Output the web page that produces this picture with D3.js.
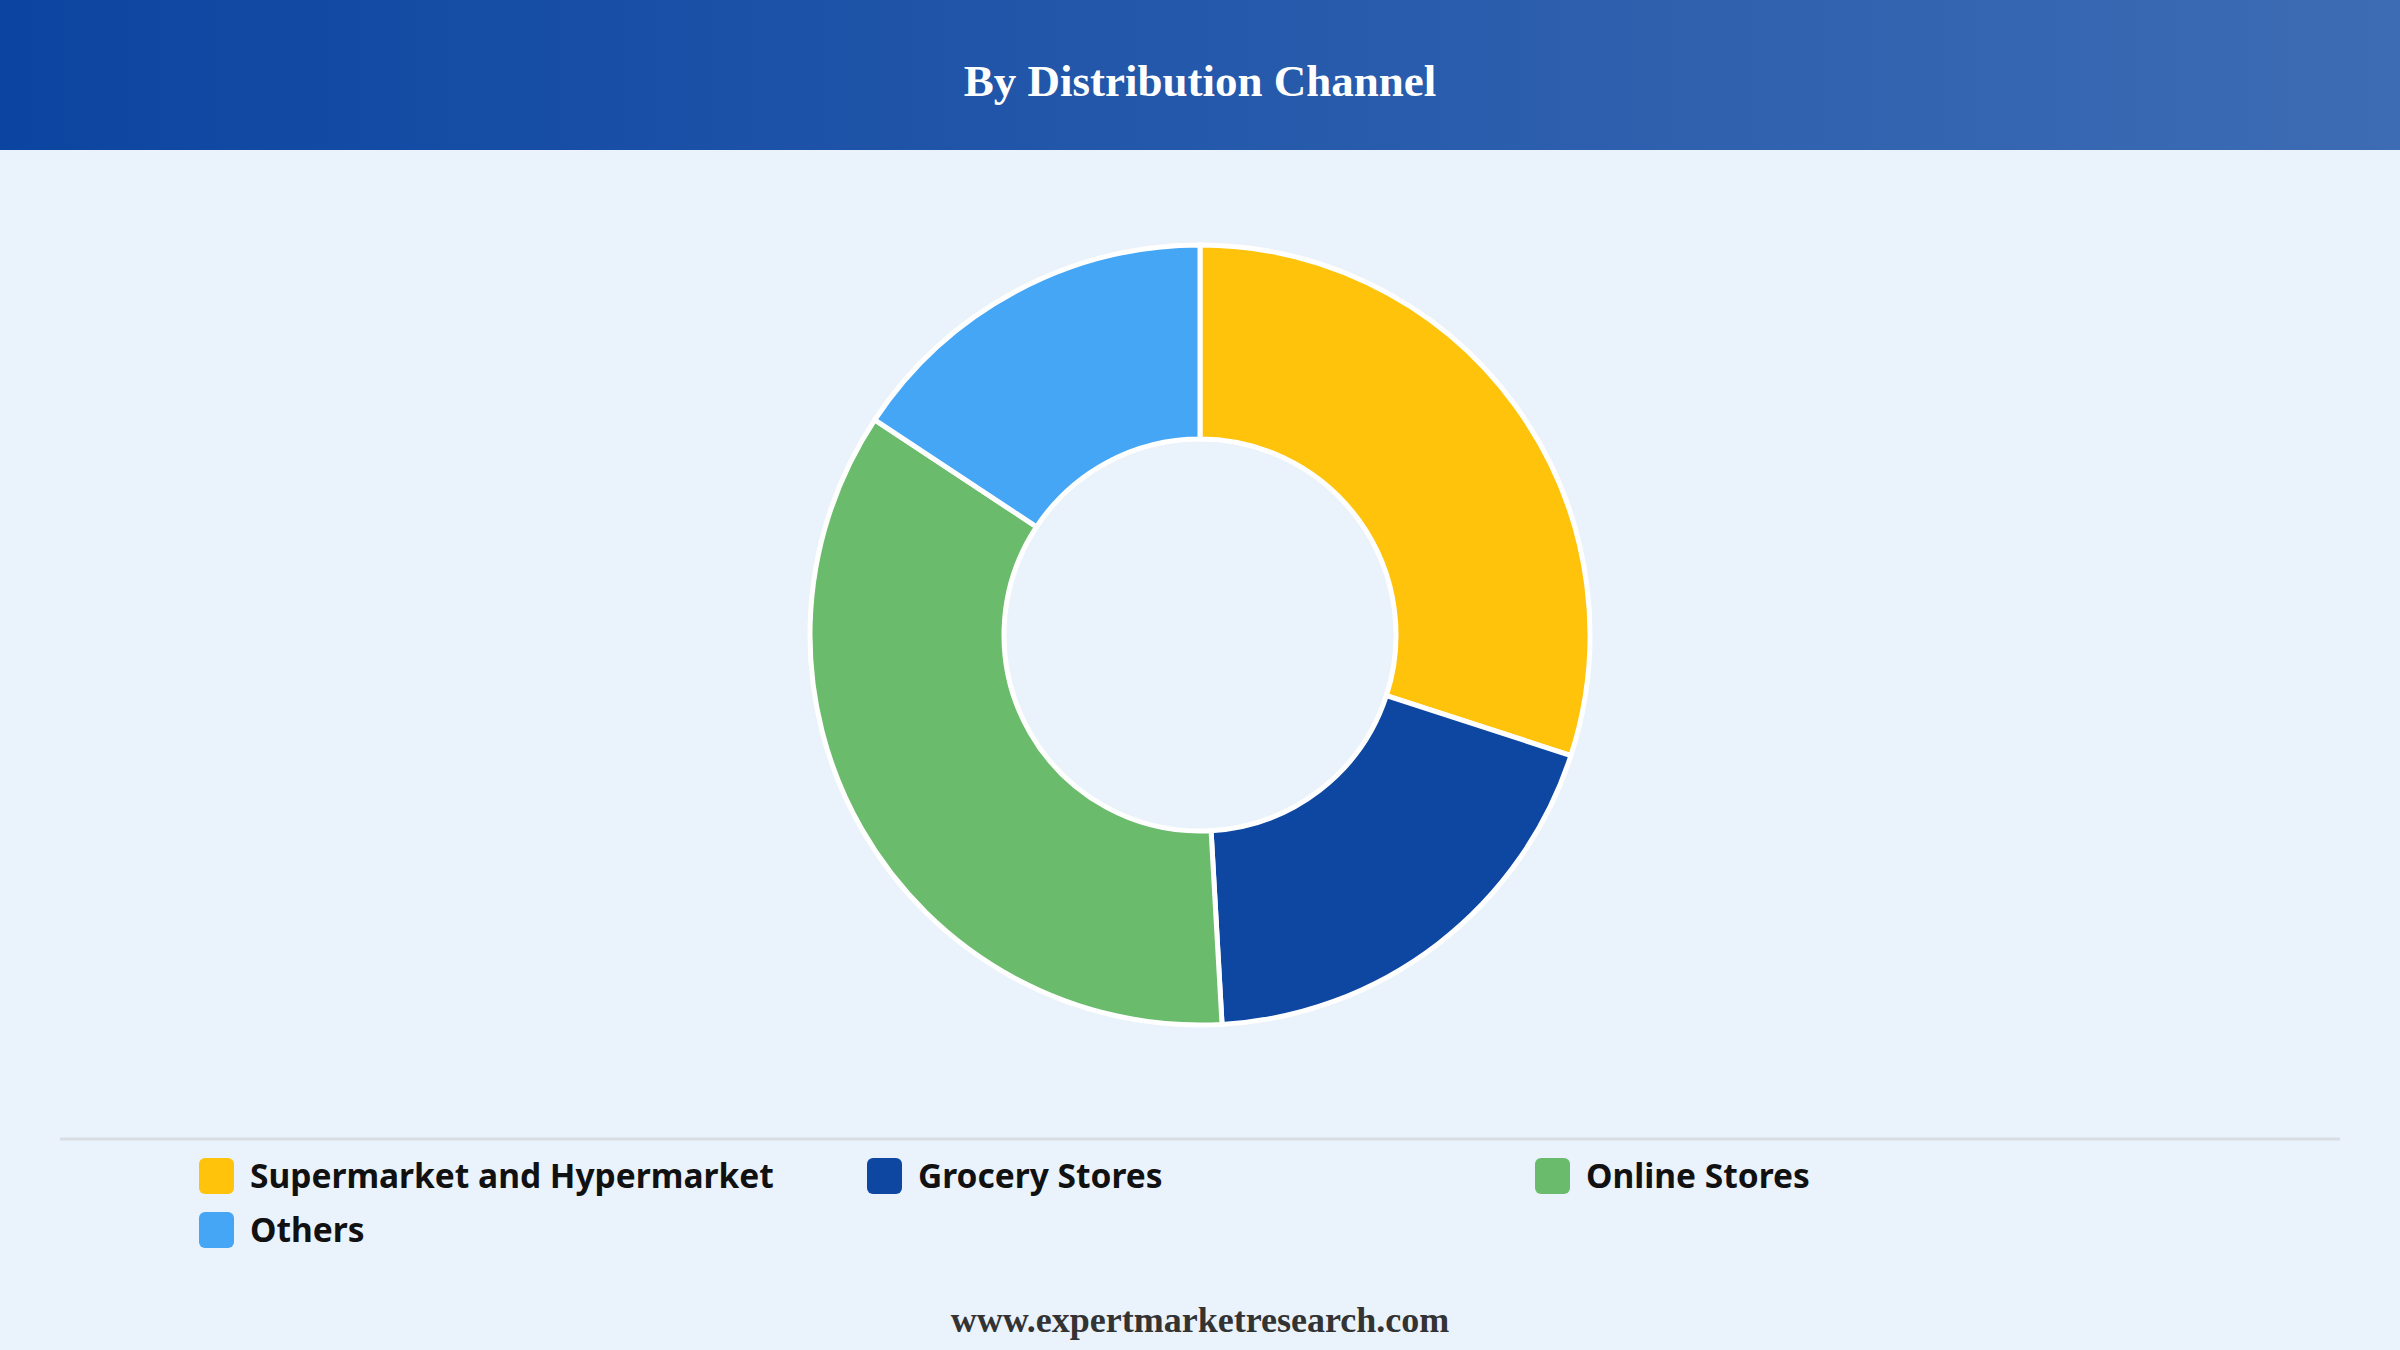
<!DOCTYPE html>
<html>
<head>
	<title>By Distribution Channel</title>
	<script src="https://cdn.jsdelivr.net/npm/d3@7/dist/d3.min.js" charset="utf-8"></script>
	<style>
		body { margin: 0; background: #eaf2fb; }
	</style>
</head>
<body>
<div id="content"></div>

<script type="text/javascript">
	var categories = ['Supermarket and Hypermarket', 'Grocery Stores', 'Online Stores', 'Others'];
	var shares = [30, 19.1, 35.2, 15.7];
	var colours = ['#ffc30b', '#0e47a1', '#6abb6b', '#44a6f5'];

	var width = 2400, height = 1350;

	var svg = d3.select('#content')
		.append('svg')
		.attr('width', width)
		.attr('height', height);

	// header band with left-to-right gradient
	var grad = svg.append('defs').append('linearGradient')
		.attr('id', 'head')
		.attr('x1', '0%').attr('x2', '100%');
	grad.append('stop').attr('offset', '0%').attr('stop-color', '#0c45a1');
	grad.append('stop').attr('offset', '100%').attr('stop-color', '#3d6cb4');

	svg.append('rect')
		.attr('width', width)
		.attr('height', height)
		.attr('fill', '#eaf2fb');

	svg.append('rect')
		.attr('width', width)
		.attr('height', 150)
		.attr('fill', 'url(#head)');

	svg.append('text')
		.attr('x', width / 2)
		.attr('y', 96)
		.attr('text-anchor', 'middle')
		.attr('fill', '#fff')
		.style('font-family', '"Liberation Serif", "Times New Roman", serif')
		.style('font-weight', 'bold')
		.style('font-size', '45px')
		.text('By Distribution Channel');

	// donut
	var pie = d3.pie().sort(null).value(d => d);
	var arc = d3.arc().innerRadius(196).outerRadius(390);

	var g = svg.append('g')
		.attr('transform', 'translate(1200,635)');

	g.selectAll('path')
		.data(pie(shares))
		.enter()
		.append('path')
		.attr('d', arc)
		.attr('fill', (d, i) => colours[i])
		.attr('stroke', '#fff')
		.attr('stroke-width', 5);

	// separator line above the legend
	svg.append('line')
		.attr('x1', 60).attr('x2', 2340)
		.attr('y1', 1139).attr('y2', 1139)
		.attr('stroke', '#d8dde4')
		.attr('stroke-width', 3);

	// legend, three columns
	var col = d3.scaleLinear().domain([0, 1]).range([199, 867]);
	var row = d3.scaleLinear().domain([0, 1]).range([1176, 1230]);

	var items = svg.selectAll('g.legend')
		.data(categories)
		.enter()
		.append('g')
		.attr('class', 'legend')
		.attr('transform', (d, i) => 'translate(' + col(i % 3) + ',' + row(Math.floor(i / 3)) + ')');

	items.append('rect')
		.attr('x', 0)
		.attr('y', -18)
		.attr('width', 35)
		.attr('height', 36)
		.attr('rx', 6)
		.attr('fill', (d, i) => colours[i]);

	items.append('text')
		.attr('x', 51)
		.attr('y', 0)
		.attr('dy', '0.36em')
		.attr('fill', '#111')
		.style('font-family', '"Noto Sans", "Open Sans", sans-serif')
		.style('font-weight', 'bold')
		.style('font-size', '33.5px')
		.text(d => d);

	// footer
	svg.append('text')
		.attr('x', width / 2)
		.attr('y', 1332)
		.attr('text-anchor', 'middle')
		.attr('fill', '#333')
		.style('font-family', '"Liberation Serif", "Times New Roman", serif')
		.style('font-weight', 'bold')
		.style('font-size', '36px')
		.text('www.expertmarketresearch.com');
</script>
</body>
</html>
